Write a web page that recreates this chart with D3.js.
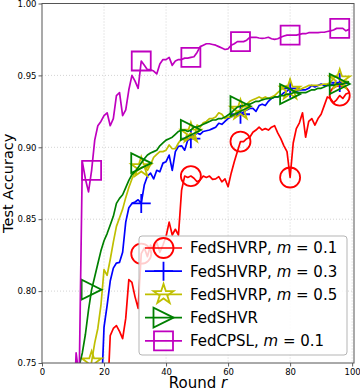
<!DOCTYPE html>
<html><head><meta charset="utf-8">
<script src="https://cdn.jsdelivr.net/npm/d3@7"></script>
<style>body{margin:0;background:#fff}svg{display:block;font-family:"DejaVu Sans",sans-serif}</style>
</head><body><svg id="c" width="360" height="392"></svg>
<script>
// ---- data ----
const xTicks = [0, 20, 40, 60, 80, 100];
const yTicks = [0.75, 0.80, 0.85, 0.90, 0.95, 1.00];
const markerRounds = [0, 16, 32, 48, 64, 80, 96];

const seriesNames = ["FedSHVRP, m = 0.1", "FedSHVRP, m = 0.3", "FedSHVRP, m = 0.5", "FedSHVR", "FedCPSL, m = 0.1"];

// each series: first round, then one value per round
const redStart = 21;
const redValues = [0.720,0.769,0.774,0.776,0.772,0.767,0.781,0.808,0.806,0.796,0.788,0.826,0.830,0.824,0.832,0.828,0.834,0.827,0.832,0.838,0.848,0.839,0.843,0.839,0.870,0.880,0.879,0.880,0.8785,0.876,0.8773,0.880,0.879,0.880,0.8777,0.878,0.8796,0.876,0.878,0.8726,0.882,0.890,0.897,0.904,0.904,0.906,0.907,0.9105,0.912,0.914,0.912,0.913,0.912,0.914,0.915,0.910,0.906,0.901,0.897,0.879,0.903,0.913,0.917,0.924,0.907,0.918,0.920,0.9155,0.920,0.923,0.929,0.935,0.934,0.931,0.933,0.936,0.934,0.937,0.938];

const blueStart = 19;
const blueValues = [0.720,0.775,0.790,0.807,0.816,0.8195,0.820,0.827,0.848,0.858,0.861,0.862,0.8635,0.861,0.874,0.880,0.882,0.878,0.884,0.883,0.889,0.890,0.8946,0.884,0.897,0.9007,0.901,0.898,0.905,0.906,0.908,0.910,0.909,0.911,0.9115,0.912,0.913,0.914,0.9167,0.916,0.918,0.920,0.921,0.9225,0.922,0.923,0.9245,0.926,0.927,0.927,0.925,0.929,0.930,0.929,0.932,0.934,0.935,0.935,0.936,0.938,0.939,0.941,0.9386,0.939,0.9397,0.940,0.940,0.941,0.943,0.942,0.943,0.944,0.943,0.943,0.9433,0.944,0.944,0.945,0.944,0.9446,0.9446];

const yellowStart = 15;
const yellowValues = [0.735,0.751,0.764,0.774,0.790,0.815,0.811,0.822,0.834,0.845,0.851,0.857,0.865,0.872,0.878,0.883,0.884,0.886,0.887,0.884,0.888,0.893,0.895,0.897,0.897,0.898,0.9016,0.899,0.899,0.903,0.906,0.905,0.908,0.910,0.906,0.9155,0.914,0.917,0.918,0.920,0.920,0.921,0.924,0.923,0.920,0.921,0.921,0.923,0.925,0.926,0.929,0.930,0.932,0.933,0.934,0.935,0.934,0.935,0.934,0.935,0.936,0.938,0.940,0.942,0.943,0.940,0.939,0.940,0.940,0.941,0.942,0.943,0.943,0.943,0.943,0.9435,0.944,0.944,0.945,0.948,0.950,0.947,0.945,0.946,0.9456];

const greenStart = 11;
const greenValues = [0.720,0.748,0.757,0.770,0.787,0.801,0.810,0.819,0.828,0.835,0.840,0.846,0.852,0.861,0.8645,0.867,0.872,0.877,0.881,0.883,0.886,0.889,0.892,0.8946,0.896,0.897,0.898,0.901,0.903,0.905,0.906,0.907,0.909,0.911,0.912,0.912,0.911,0.912,0.914,0.914,0.915,0.916,0.917,0.918,0.919,0.919,0.920,0.920,0.921,0.9225,0.924,0.926,0.928,0.9285,0.929,0.930,0.930,0.931,0.932,0.932,0.933,0.9336,0.934,0.934,0.935,0.935,0.936,0.936,0.937,0.937,0.938,0.938,0.938,0.938,0.938,0.939,0.940,0.940,0.941,0.941,0.942,0.943,0.943,0.943,0.944,0.944,0.944,0.945,0.9456];

const magentaStart = 10;
const magentaValues = [0.700,0.757,0.740,0.890,0.878,0.869,0.884,0.905,0.915,0.918,0.922,0.924,0.915,0.920,0.936,0.938,0.922,0.926,0.940,0.950,0.946,0.941,0.960,0.957,0.954,0.954,0.953,0.951,0.958,0.961,0.961,0.9625,0.957,0.960,0.961,0.961,0.962,0.962,0.9625,0.963,0.966,0.970,0.971,0.972,0.972,0.9715,0.971,0.970,0.969,0.968,0.9685,0.971,0.972,0.9735,0.9735,0.9735,0.9745,0.9765,0.9765,0.9765,0.976,0.9758,0.976,0.9765,0.9755,0.975,0.9755,0.9765,0.9774,0.978,0.978,0.978,0.978,0.9785,0.979,0.979,0.9797,0.9797,0.9797,0.9797,0.980,0.980,0.9805,0.981,0.9816,0.9827,0.9827,0.9827,0.981,0.982];

const series = [
  {name: seriesNames[0], start: redStart, values: redValues, color: "#ff0000", marker: "circle"},
  {name: seriesNames[1], start: blueStart, values: blueValues, color: "#0000ff", marker: "plus"},
  {name: seriesNames[2], start: yellowStart, values: yellowValues, color: "#bfbf00", marker: "star"},
  {name: seriesNames[3], start: greenStart, values: greenValues, color: "#008000", marker: "tri"},
  {name: seriesNames[4], start: magentaStart, values: magentaValues, color: "#bf00bf", marker: "square"}
];

// ---- layout ----
const svg = d3.select("#c");
const L = 42, R = 354, T = 3.5, B = 363;
const x = d3.scaleLinear().domain([0, 100.6]).range([L, R]);
const y = d3.scaleLinear().domain([0.75, 1.0]).range([B, T]);

svg.append("defs").append("clipPath").attr("id", "clip")
  .append("rect").attr("x", L).attr("y", T).attr("width", R - L).attr("height", B - T);

// grid
const grid = svg.append("g");
grid.selectAll(".gx").data(xTicks.slice(1)).join("line")
  .attr("x1", d => x(d)).attr("x2", d => x(d)).attr("y1", T).attr("y2", B)
  .attr("stroke", "#c8c8c8").attr("stroke-width", 0.8).attr("stroke-dasharray", "1,2");
grid.selectAll(".gy").data(yTicks.slice(1, -1)).join("line")
  .attr("y1", d => y(d)).attr("y2", d => y(d)).attr("x1", L).attr("x2", R)
  .attr("stroke", "#c8c8c8").attr("stroke-width", 0.8).attr("stroke-dasharray", "1,2");

// marker paths
function markerPath(type) {
  if (type === "circle") { const p = d3.path(); p.arc(0, 0, 10, 0, 2 * Math.PI); p.closePath(); return p.toString(); }
  if (type === "square") return "M-9.5,-9.5H9.5V9.5H-9.5Z";
  if (type === "plus") return "M-9.5,0H9.5M0,-9.5V9.5";
  if (type === "tri") return "M10,0L-10,10L-10,-10Z";
  if (type === "star") {
    const pts = [];
    const ro = 10.5, ri = ro * 0.381966;
    for (let i = 0; i < 10; i++) {
      const a = -Math.PI / 2 + i * Math.PI / 5;
      const r = i % 2 === 0 ? ro : ri;
      pts.push([r * Math.cos(a), r * Math.sin(a)]);
    }
    return "M" + pts.map(p => p[0].toFixed(2) + "," + p[1].toFixed(2)).join("L") + "Z";
  }
}

// lines + markers
const plot = svg.append("g").attr("clip-path", "url(#clip)");
const line = d3.line().x(d => x(d[0])).y(d => y(d[1]));
series.forEach(s => {
  const pts = s.values.map((v, i) => [s.start + i, v]);
  const g = plot.append("g");
  g.append("path").datum(pts).attr("d", line).attr("fill", "none")
    .attr("stroke", s.color).attr("stroke-width", 1.7).attr("stroke-linejoin", "round");
  const mk = pts.filter(p => markerRounds.includes(p[0]));
  g.selectAll("path.m").data(mk).join("path").attr("class", "m")
    .attr("d", markerPath(s.marker))
    .attr("transform", d => `translate(${x(d[0])},${y(d[1])})`)
    .attr("fill", "none").attr("stroke", s.color).attr("stroke-width", 1.8);
});

// axes
const ax = svg.append("g").attr("transform", `translate(0,${B})`)
  .call(d3.axisBottom(x).tickValues(xTicks).tickSize(3.5).tickPadding(2).tickFormat(d3.format("d")));
const ay = svg.append("g").attr("transform", `translate(${L},0)`)
  .call(d3.axisLeft(y).tickValues(yTicks).tickSize(3.5).tickPadding(2).tickFormat(d3.format(".2f")));
[ax, ay].forEach(a => {
  a.select(".domain").remove();
  a.selectAll("text").attr("font-size", 8.5).attr("fill", "#000").attr("font-family", "DejaVu Sans");
  a.selectAll("line").attr("stroke", "#333").attr("stroke-width", 0.8);
});
// frame
svg.append("rect").attr("x", L).attr("y", T).attr("width", R - L).attr("height", B - T)
  .attr("fill", "none").attr("stroke", "#555").attr("stroke-width", 1);

// axis labels
svg.append("text").attr("x", (L + R) / 2).attr("y", 388).attr("text-anchor", "middle")
  .attr("font-size", 15).call(t => { t.append("tspan").text("Round "); t.append("tspan").attr("font-style", "italic").text("r"); });
svg.append("text").attr("transform", `translate(13,${(T + B) / 2}) rotate(-90)`).attr("text-anchor", "middle")
  .attr("font-size", 14.5).text("Test Accuracy");

// legend
const lg = svg.append("g");
lg.append("rect").attr("x", 139).attr("y", 236).attr("width", 208).attr("height", 119).attr("rx", 3)
  .attr("fill", "#fff").attr("fill-opacity", 0.8).attr("stroke", "#b5b5b5").attr("stroke-width", 1);
series.forEach((s, i) => {
  const yy = 248 + i * 23.2;
  lg.append("line").attr("x1", 145).attr("x2", 182).attr("y1", yy).attr("y2", yy)
    .attr("stroke", s.color).attr("stroke-width", 1.7);
  lg.append("path").attr("d", markerPath(s.marker)).attr("transform", `translate(163.5,${yy})`)
    .attr("fill", "none").attr("stroke", s.color).attr("stroke-width", 1.8);
  const t = lg.append("text").attr("x", 190).attr("y", yy + 5.3).attr("font-size", 15).attr("fill", "#000");
  const parts = s.name.split(", m = ");
  if (parts.length === 2) {
    t.append("tspan").text(parts[0] + ", ");
    t.append("tspan").attr("font-style", "italic").text("m");
    t.append("tspan").text(" = " + parts[1]);
  } else t.text(s.name);
});
</script></body></html>
